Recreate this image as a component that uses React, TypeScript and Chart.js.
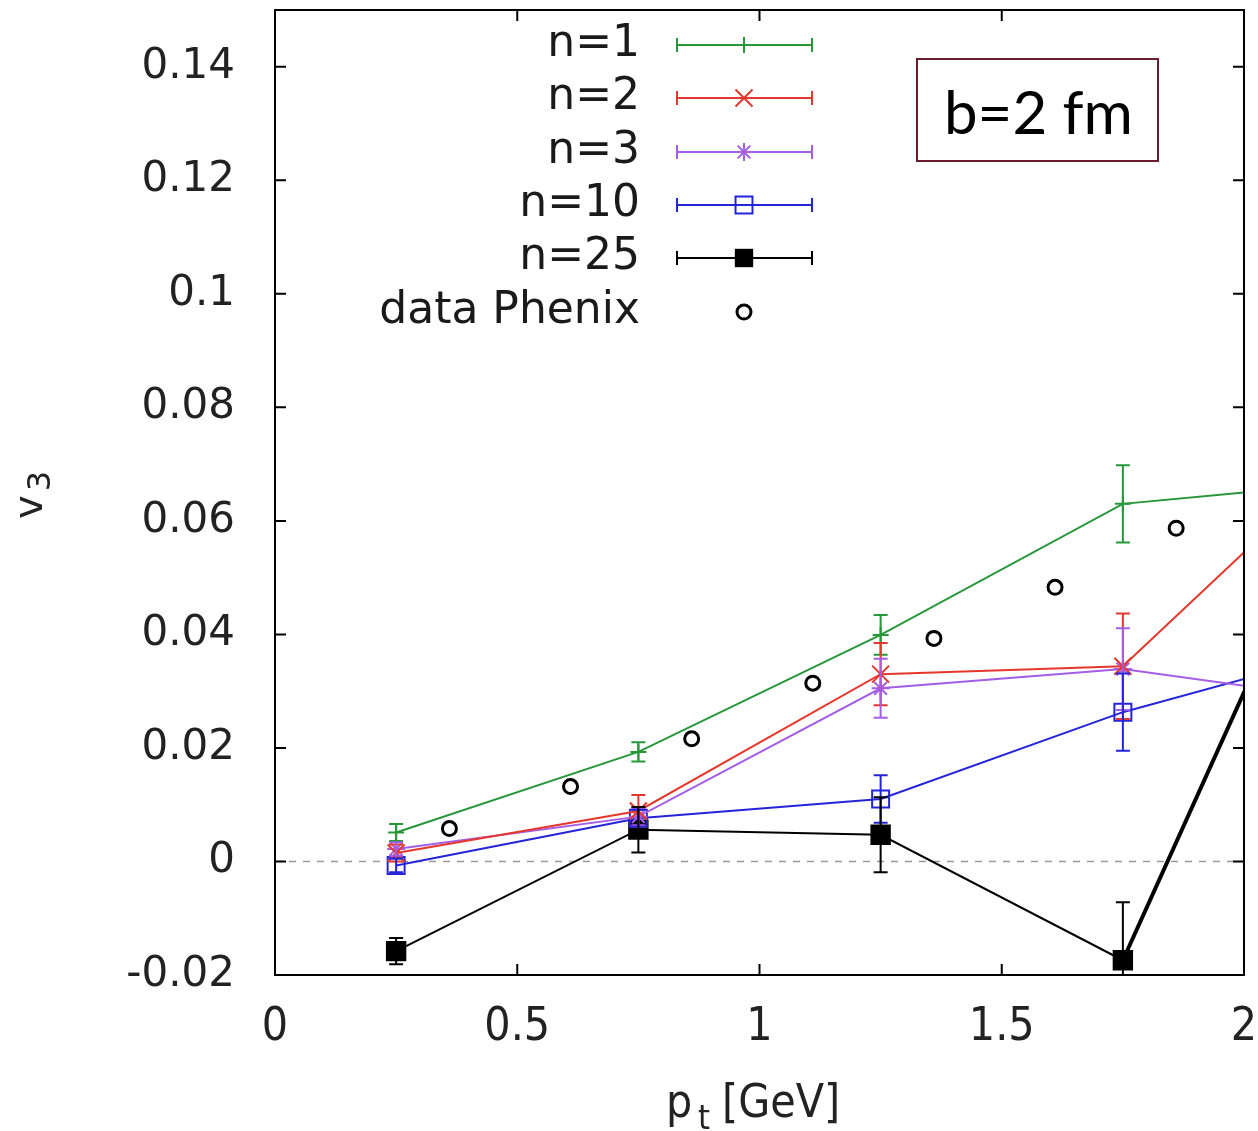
import React, { useEffect, useRef } from "react";
import { Chart, registerables } from "chart.js";
Chart.register(...registerables);

// ---- data ----
const PT = [0.25, 0.75, 1.25, 1.75, 2.25];
const N1 = [0.0051, 0.0193, 0.0399, 0.063, 0.067];
const N1_ERR = [0.0015, 0.0017, 0.0035, 0.0068, 0.007];
const N2 = [0.0015, 0.0089, 0.033, 0.0344, 0.0745];
const N2_ERR = [0.0015, 0.0028, 0.0055, 0.0093, 0.01];
const N3 = [0.0022, 0.0079, 0.0305, 0.0339, 0.028];
const N3_ERR = [0.0012, 0.0015, 0.0052, 0.0072, 0.007];
const N10 = [-0.0007, 0.0076, 0.011, 0.0263, 0.038];
const N10_ERR = [0.0012, 0.0015, 0.0042, 0.0068, 0.007];
const N25 = [-0.0158, 0.0056, 0.0047, -0.0174, 0.077];
const N25_ERR = [0.0023, 0.004, 0.0066, 0.0102, 0.01];
const PHENIX_PT = [0.36, 0.61, 0.86, 1.11, 1.36, 1.61, 1.86];
const PHENIX_V3 = [0.0058, 0.0132, 0.0216, 0.0314, 0.0393, 0.0483, 0.0587];

const X_TICKS = [0, 0.5, 1, 1.5, 2];
const X_TICK_LABELS = ["0", "0.5", "1", "1.5", "2"];
const Y_TICKS = [-0.02, 0, 0.02, 0.04, 0.06, 0.08, 0.1, 0.12, 0.14];
const Y_TICK_LABELS = ["-0.02", "0", "0.02", "0.04", "0.06", "0.08", "0.1", "0.12", "0.14"];

const SERIES_LABELS = ["n=1", "n=2", "n=3", "n=10", "n=25"];
const PHENIX_LABEL = "data Phenix";
const ANNOTATION = "b=2 fm";

const GREEN = "#27973a";
const RED = "#e5382c";
const PURPLE = "#a45ee6";
const BLUE = "#2424d8";
const BLACK = "#000000";

const SERIES = [
  { label: SERIES_LABELS[0], values: N1, errors: N1_ERR, color: GREEN, style: "cross", radius: 8 },
  { label: SERIES_LABELS[1], values: N2, errors: N2_ERR, color: RED, style: "crossRot", radius: 12 },
  { label: SERIES_LABELS[2], values: N3, errors: N3_ERR, color: PURPLE, style: "star", radius: 9 },
  { label: SERIES_LABELS[3], values: N10, errors: N10_ERR, color: BLUE, style: "rect", radius: 12 },
  { label: SERIES_LABELS[4], values: N25, errors: N25_ERR, color: BLACK, style: "rectFilled", radius: 13 },
];

function drawMarker(ctx: CanvasRenderingContext2D, style: string, x: number, y: number, r: number, color: string) {
  ctx.save();
  ctx.strokeStyle = color;
  ctx.fillStyle = color;
  ctx.lineWidth = 2;
  ctx.beginPath();
  if (style === "cross" || style === "star") {
    ctx.moveTo(x - r, y); ctx.lineTo(x + r, y);
    ctx.moveTo(x, y - r); ctx.lineTo(x, y + r);
  }
  if (style === "crossRot" || style === "star") {
    const d = r * 0.707;
    ctx.moveTo(x - d, y - d); ctx.lineTo(x + d, y + d);
    ctx.moveTo(x - d, y + d); ctx.lineTo(x + d, y - d);
  }
  ctx.stroke();
  if (style === "rect") {
    const s = r * 0.707;
    ctx.strokeRect(x - s, y - s, 2 * s, 2 * s);
  }
  if (style === "rectFilled") {
    const s = r * 0.707;
    ctx.fillRect(x - s, y - s, 2 * s, 2 * s);
  }
  if (style === "circle") {
    ctx.fillStyle = "#fff";
    ctx.lineWidth = 3;
    ctx.beginPath();
    ctx.arc(x, y, r, 0, Math.PI * 2);
    ctx.fill();
    ctx.stroke();
  }
  ctx.restore();
}

const decor = {
  id: "decor",
  beforeDatasetsDraw(chart: any) {
    const { ctx, chartArea: a, scales } = chart;
    const y0 = scales.y.getPixelForValue(0);
    ctx.save();
    ctx.strokeStyle = "#9a9a9a";
    ctx.lineWidth = 1.5;
    ctx.setLineDash([7, 7]);
    ctx.beginPath();
    ctx.moveTo(a.left, y0);
    ctx.lineTo(a.right, y0);
    ctx.stroke();
    ctx.restore();
  },
  afterDatasetsDraw(chart: any) {
    const { ctx, chartArea: a, scales } = chart;
    const xs = scales.x, ys = scales.y;
    // error bars
    ctx.save();
    ctx.beginPath();
    ctx.rect(a.left, a.top, a.right - a.left, a.bottom - a.top);
    ctx.clip();
    SERIES.forEach((s) => {
      ctx.strokeStyle = s.color;
      ctx.lineWidth = 2;
      PT.forEach((p, i) => {
        const px = xs.getPixelForValue(p);
        const yt = ys.getPixelForValue(s.values[i] + s.errors[i]);
        const yb = ys.getPixelForValue(s.values[i] - s.errors[i]);
        ctx.beginPath();
        ctx.moveTo(px, yt); ctx.lineTo(px, yb);
        ctx.moveTo(px - 7, yt); ctx.lineTo(px + 7, yt);
        ctx.moveTo(px - 7, yb); ctx.lineTo(px + 7, yb);
        ctx.stroke();
      });
    });
    ctx.restore();

    // frame and inward ticks
    ctx.save();
    ctx.strokeStyle = "#000";
    ctx.lineWidth = 2;
    ctx.strokeRect(a.left, a.top, a.right - a.left, a.bottom - a.top);
    ctx.beginPath();
    X_TICKS.forEach((v) => {
      const px = xs.getPixelForValue(v);
      ctx.moveTo(px, a.bottom); ctx.lineTo(px, a.bottom - 11);
      ctx.moveTo(px, a.top); ctx.lineTo(px, a.top + 11);
    });
    Y_TICKS.forEach((v) => {
      const py = ys.getPixelForValue(v);
      ctx.moveTo(a.left, py); ctx.lineTo(a.left + 11, py);
      ctx.moveTo(a.right, py); ctx.lineTo(a.right - 11, py);
    });
    ctx.stroke();
    ctx.restore();

    // legend
    ctx.save();
    ctx.font = '44px "DejaVu Sans"';
    ctx.textAlign = "right";
    ctx.textBaseline = "middle";
    const rowY = [45, 98, 152, 205, 258, 312];
    SERIES.forEach((s, i) => {
      const y = rowY[i];
      ctx.fillStyle = "#1a1a1a";
      ctx.fillText(s.label, 640, y);
      ctx.strokeStyle = s.color;
      ctx.lineWidth = 2;
      ctx.beginPath();
      ctx.moveTo(677, y); ctx.lineTo(812, y);
      ctx.moveTo(677, y - 7); ctx.lineTo(677, y + 7);
      ctx.moveTo(812, y - 7); ctx.lineTo(812, y + 7);
      ctx.stroke();
      drawMarker(ctx, s.style, 744, y, s.radius, s.color);
    });
    ctx.fillStyle = "#1a1a1a";
    ctx.fillText(PHENIX_LABEL, 640, rowY[5]);
    drawMarker(ctx, "circle", 744, rowY[5], 7, "#000");
    ctx.restore();

    // annotation box
    ctx.save();
    ctx.fillStyle = "#fff";
    ctx.fillRect(917, 59, 241, 102);
    ctx.strokeStyle = "#6a1c2e";
    ctx.lineWidth = 2;
    ctx.strokeRect(917, 59, 241, 102);
    ctx.fillStyle = "#000";
    ctx.font = "60px Lato";
    ctx.textAlign = "left";
    ctx.textBaseline = "alphabetic";
    ctx.fillText(ANNOTATION, 944, 134);
    ctx.restore();

    // x title: p_t [GeV]
    ctx.save();
    ctx.fillStyle = "#222";
    ctx.textBaseline = "alphabetic";
    ctx.textAlign = "left";
    ctx.font = '46px "DejaVu Sans Condensed"';
    ctx.fillText("p", 666, 1117);
    ctx.font = '34px "DejaVu Sans Condensed"';
    ctx.fillText("t", 698, 1129);
    ctx.font = '46px "DejaVu Sans Condensed"';
    ctx.fillText("[GeV]", 722, 1117);
    ctx.restore();

    // y title: v_3 rotated
    ctx.save();
    ctx.fillStyle = "#222";
    ctx.translate(42, 519);
    ctx.rotate(-Math.PI / 2);
    ctx.textAlign = "left";
    ctx.textBaseline = "alphabetic";
    ctx.font = '40px "DejaVu Sans"';
    ctx.fillText("v", 0, 0);
    const w = ctx.measureText("v").width;
    ctx.font = '32px "DejaVu Sans"';
    ctx.fillText("3", w + 4, 8);
    ctx.restore();
  },
};

export default function App() {
  const ref = useRef<HTMLCanvasElement>(null);
  useEffect(() => {
    if (!ref.current) return;
    const datasets: any[] = SERIES.map((s, si) => ({
      label: s.label,
      data: PT.map((p, i) => ({ x: p, y: s.values[i] })),
      borderColor: s.color,
      backgroundColor: s.style === "rectFilled" ? s.color : "rgba(0,0,0,0)",
      borderWidth: 2,
      segment: si === 4 ? { borderWidth: (c: any) => (c.p0DataIndex === 3 ? 4 : 2) } : undefined,
      pointStyle: s.style === "rectFilled" ? "rect" : s.style,
      pointRadius: s.radius,
      pointBorderWidth: 2,
      pointBorderColor: s.color,
      pointBackgroundColor: s.style === "rectFilled" ? s.color : "rgba(0,0,0,0)",
      tension: 0,
      fill: false,
    }));
    datasets.push({
      label: PHENIX_LABEL,
      data: PHENIX_PT.map((p, i) => ({ x: p, y: PHENIX_V3[i] })),
      showLine: false,
      pointStyle: "circle",
      pointRadius: 7,
      pointBorderWidth: 3,
      pointBorderColor: "#000",
      pointBackgroundColor: "#fff",
    });
    const zeroPad = (scale: any) => {
      scale.paddingTop = 0;
      scale.paddingBottom = 0;
      scale.paddingLeft = 0;
      scale.paddingRight = 0;
    };
    const chart = new Chart(ref.current, {
      type: "line",
      data: { datasets },
      options: {
        animation: false,
        responsive: false,
        layout: { autoPadding: false, padding: { top: 10, right: 14, left: 0, bottom: 0 } },
        plugins: { legend: { display: false }, tooltip: { enabled: false } },
        scales: {
          x: {
            type: "linear",
            min: 0,
            max: 2,
            grid: { display: false, drawTicks: false },
            border: { display: false },
            afterBuildTicks: (scale: any) => {
              scale.ticks = X_TICKS.map((v) => ({ value: v }));
            },
            afterFit: (scale: any) => {
              scale.height = 156;
              zeroPad(scale);
            },
            ticks: {
              padding: 25,
              color: "#222",
              font: { family: "DejaVu Sans Condensed", size: 46 },
              callback: (_v: any, i: number) => X_TICK_LABELS[i],
              maxRotation: 0,
            },
          },
          y: {
            type: "linear",
            min: -0.02,
            max: 0.15,
            grid: { display: false, drawTicks: false },
            border: { display: false },
            afterBuildTicks: (scale: any) => {
              scale.ticks = Y_TICKS.map((v) => ({ value: v }));
            },
            afterFit: (scale: any) => {
              scale.width = 275;
              zeroPad(scale);
            },
            ticks: {
              padding: 40,
              color: "#222",
              font: { family: "DejaVu Sans", size: 42 },
              callback: (_v: any, i: number) => Y_TICK_LABELS[i],
            },
          },
        },
      },
      plugins: [decor],
    } as any);
    return () => chart.destroy();
  }, []);
  return (
    <div style={{ position: "absolute", left: 0, top: 0, width: 1258, height: 1131, background: "#fff" }}>
      <canvas ref={ref} width={1258} height={1131} style={{ display: "block" }} />
    </div>
  );
}
